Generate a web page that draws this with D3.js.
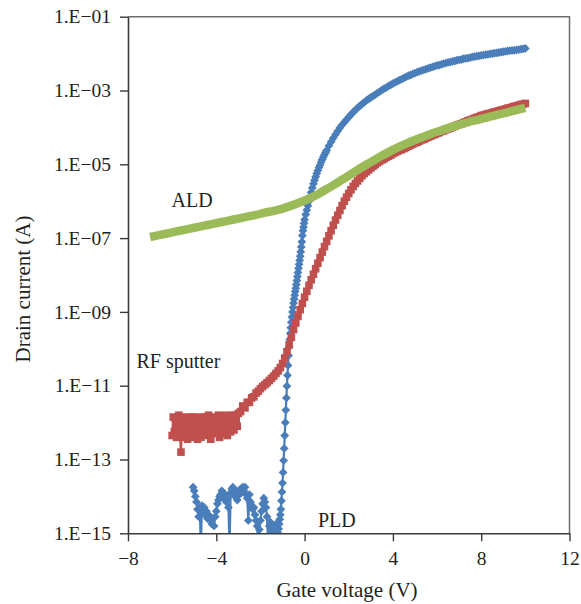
<!DOCTYPE html>
<html>
<head>
<meta charset="utf-8">
<script src="https://cdn.jsdelivr.net/npm/d3@7"></script>
<style>
  body { margin: 0; background: #fff; }
  text { font-family: "Liberation Serif", "Times New Roman", serif; fill: #231f20; }
</style>
</head>
<body>
<script>
// Global variables
const width = 581;
const height = 604;

// axis ticks
const xTicks = [-8, -4, 0, 4, 8, 12];
const yTicks = [1e-1, 1e-3, 1e-5, 1e-7, 1e-9, 1e-11, 1e-13, 1e-15];

// PLD (blue diamonds): gate voltage (V) and log10 of drain current (A)
const pldV = [
  -5.05, -5.00, -4.95, -4.90, -4.85, -4.80, -4.75, -4.70, -4.65, -4.60, -4.55, -4.50, -4.45,
  -4.40, -4.35, -4.30, -4.25, -4.20, -4.15, -4.10, -4.05, -4.00, -3.95, -3.90, -3.85, -3.80,
  -3.75, -3.70, -3.65, -3.60, -3.55, -3.50, -3.45, -3.40, -3.35, -3.30, -3.25, -3.20, -3.15,
  -3.10, -3.05, -3.00, -2.95, -2.90, -2.85, -2.80, -2.75, -2.70, -2.65, -2.60, -2.55, -2.50,
  -2.45, -2.40, -2.35, -2.30, -2.25, -2.20, -2.15, -2.10, -2.05, -2.00, -1.95, -1.90, -1.85,
  -1.80, -1.75, -1.70, -1.65, -1.60, -1.55, -1.50, -1.45, -1.40, -1.35, -1.30, -1.25,
  -1.200, -1.175, -1.150, -1.125, -1.100, -1.075, -1.050, -1.025, -1.000, -0.975,
  -0.950, -0.925, -0.900, -0.875, -0.850, -0.825, -0.800, -0.775, -0.750, -0.725,
  -0.700, -0.675, -0.650, -0.625, -0.600, -0.575, -0.550, -0.525, -0.500, -0.475,
  -0.450, -0.425, -0.400, -0.375, -0.350, -0.325, -0.300, -0.275, -0.250, -0.225,
  -0.200, -0.175, -0.150, -0.125, -0.100, -0.075, -0.050, -0.025,
  0.00, 0.05, 0.10, 0.15, 0.20, 0.25, 0.30, 0.35, 0.40, 0.45, 0.50, 0.55, 0.60, 0.65,
  0.70, 0.75, 0.80, 0.85, 0.90, 0.95, 1.00,
  1.1, 1.2, 1.3, 1.4, 1.5, 1.6, 1.7, 1.8,
  1.9, 2.0, 2.1, 2.2, 2.3, 2.4, 2.5, 2.6, 2.7, 2.8, 2.9, 3.0, 3.1, 3.2, 3.3, 3.4, 3.5, 3.6,
  3.7, 3.8, 3.9, 4.0, 4.1, 4.2, 4.3, 4.4, 4.5, 4.6, 4.7, 4.8, 4.9, 5.0, 5.1, 5.2, 5.3, 5.4,
  5.5, 5.6, 5.7, 5.8, 5.9, 6.0, 6.1, 6.2, 6.3, 6.4, 6.5, 6.6, 6.7, 6.8, 6.9, 7.0, 7.1, 7.2,
  7.3, 7.4, 7.5, 7.6, 7.7, 7.8, 7.9, 8.0, 8.1, 8.2, 8.3, 8.4, 8.5, 8.6, 8.7, 8.8, 8.9, 9.0,
  9.1, 9.2, 9.3, 9.4, 9.5, 9.6, 9.7, 9.8, 9.9, 10.0
];
const pldLogI = [
  -13.75, -13.85, -14.0, -14.15, -14.35, -14.55, -14.3, -15.4, -14.25, -14.45, -14.3, -14.5, -14.4,
  -14.6, -14.5, -14.55, -14.65, -14.75, -14.6, -14.8, -14.55, -14.4, -14.2, -14.1, -14.0, -13.95,
  -13.85, -13.9, -14.05, -13.95, -14.15, -14.05, -14.3, -15.4, -13.9, -13.8, -13.75, -13.85, -14.0,
  -13.9, -14.1, -13.85, -13.95, -13.8, -13.9, -13.75, -13.85, -13.75, -13.95, -14.05, -14.65, -13.95,
  -14.15, -14.25, -14.35, -14.3, -14.5, -14.65, -14.8, -15.4, -14.9, -14.65, -14.4, -14.2, -14.05,
  -14.15, -14.3, -14.55, -15.4, -14.8, -14.7, -14.85, -14.95, -15.4, -14.9, -14.75, -14.95,
  -15.0, -14.88, -14.75, -14.62, -14.5, -14.35, -14.12, -13.88, -13.64, -13.35,
  -13.03, -12.7, -12.35, -12.0, -11.66, -11.33, -11.01, -10.72, -10.45, -10.18,
  -9.95, -9.75, -9.58, -9.43, -9.28, -9.14, -9.0, -8.88, -8.76, -8.65,
  -8.55, -8.45, -8.36, -8.26, -8.15, -8.04, -7.93, -7.82, -7.71, -7.6,
  -7.49, -7.37, -7.24, -7.1, -6.93, -6.8, -6.7, -6.6,
  -6.5, -6.36, -6.24, -6.12, -6.0, -5.88, -5.76, -5.64, -5.53, -5.43, -5.34, -5.25, -5.17, -5.09,
  -5.02, -4.94, -4.87, -4.8, -4.74, -4.68, -4.62,
  -4.5, -4.39, -4.29, -4.19, -4.1, -4.01, -3.93, -3.86,
  -3.79, -3.72, -3.65, -3.59, -3.53, -3.47, -3.42, -3.37, -3.32, -3.27,
  -3.23, -3.19, -3.15, -3.11, -3.07, -3.03, -2.99, -2.95, -2.92, -2.88, -2.85, -2.81, -2.78, -2.75,
  -2.72, -2.69, -2.66, -2.63, -2.6, -2.58, -2.55, -2.53, -2.5, -2.48, -2.46, -2.44, -2.42, -2.4,
  -2.38, -2.36, -2.34, -2.32, -2.31, -2.29, -2.27, -2.26, -2.24, -2.23, -2.21, -2.2, -2.18, -2.17,
  -2.16, -2.14, -2.13, -2.12, -2.11, -2.09, -2.08, -2.07, -2.06, -2.05, -2.04, -2.03, -2.02, -2.01,
  -2.0, -1.99, -1.98, -1.97, -1.96, -1.95, -1.94, -1.93, -1.92, -1.91, -1.91, -1.9, -1.89, -1.88,
  -1.87, -1.86
];

// RF sputter (red squares)
const rfV = [
  -6.00, -5.95, -5.90, -5.85, -5.80, -5.75, -5.70, -5.65, -5.60, -5.55, -5.50, -5.45,
  -5.40, -5.35, -5.30, -5.25, -5.20, -5.15, -5.10, -5.05, -5.00, -4.95, -4.90, -4.85,
  -4.80, -4.75, -4.70, -4.65, -4.60, -4.55, -4.50, -4.45, -4.40, -4.35, -4.30, -4.25,
  -4.20, -4.15, -4.10, -4.05, -4.00, -3.95, -3.90, -3.85, -3.80, -3.75, -3.70, -3.65,
  -3.60, -3.55, -3.50, -3.45, -3.40, -3.35, -3.30, -3.25, -3.20, -3.15, -3.10, -3.05,
  -3.0, -2.9, -2.8, -2.7, -2.6, -2.5, -2.4, -2.3, -2.2, -2.1, -2.0, -1.9, -1.8, -1.7,
  -1.6, -1.5, -1.4, -1.3, -1.2, -1.1, -1.0, -0.9, -0.8, -0.7, -0.6, -0.5, -0.4, -0.3,
  -0.2, -0.1, 0.0, 0.1, 0.2, 0.3, 0.4, 0.5, 0.6, 0.7, 0.8, 0.9, 1.0, 1.1, 1.2, 1.3,
  1.4, 1.5, 1.6, 1.7, 1.8, 1.9, 2.0, 2.1, 2.2, 2.3, 2.4, 2.5, 2.6, 2.7, 2.8, 2.9, 3.0,
  3.1, 3.2, 3.3, 3.4, 3.5, 3.6, 3.7, 3.8, 3.9, 4.0, 4.1, 4.2, 4.3, 4.4, 4.5, 4.6, 4.7,
  4.8, 4.9, 5.0, 5.1, 5.2, 5.3, 5.4, 5.5, 5.6, 5.7, 5.8, 5.9, 6.0, 6.1, 6.2, 6.3, 6.4,
  6.5, 6.6, 6.7, 6.8, 6.9, 7.0, 7.1, 7.2, 7.3, 7.4, 7.5, 7.6, 7.7, 7.8, 7.9, 8.0, 8.1,
  8.2, 8.3, 8.4, 8.5, 8.6, 8.7, 8.8, 8.9, 9.0, 9.1, 9.2, 9.3, 9.4, 9.5, 9.6, 9.7, 9.8,
  9.9, 10.0
];
const rfLogI = [
  -12.35, -11.85, -12.25, -11.9, -12.4, -12.0, -11.8, -12.3, -12.8, -11.85, -12.2, -12.4,
  -11.9, -12.1, -12.45, -11.85, -12.3, -12.0, -11.85, -12.4, -12.15, -11.85, -12.35, -12.45,
  -11.9, -12.1, -12.4, -11.85, -12.25, -12.0, -11.85, -12.35, -12.2, -11.8, -12.3, -12.45,
  -11.9, -12.1, -12.3, -11.85, -12.25, -12.0, -11.8, -12.4, -12.1, -11.85, -12.3, -12.0,
  -11.8, -12.2, -12.35, -11.85, -12.05, -12.25, -11.8, -12.0, -12.2, -11.8, -11.95, -12.1,
  -11.75, -11.7, -11.55, -11.6, -11.45, -11.45, -11.33, -11.3, -11.2, -11.15, -11.08, -11.02, -10.97, -10.92,
  -10.86, -10.8, -10.74, -10.67, -10.6, -10.51, -10.4, -10.25, -10.08, -9.89, -9.69, -9.48, -9.3, -9.12,
  -8.94, -8.77, -8.6, -8.44, -8.28, -8.13, -7.98, -7.83, -7.68, -7.53, -7.38, -7.23, -7.09, -6.94, -6.8, -6.65,
  -6.51, -6.38, -6.25, -6.12, -6.0, -5.89, -5.79, -5.69, -5.6, -5.52, -5.45, -5.38, -5.31, -5.25, -5.2, -5.15, -5.1,
  -5.05, -5.01, -4.96, -4.92, -4.88, -4.85, -4.81, -4.78, -4.75, -4.71, -4.68, -4.65, -4.62, -4.6, -4.57, -4.54, -4.51,
  -4.48, -4.45, -4.42, -4.4, -4.37, -4.34, -4.32, -4.29, -4.26, -4.24, -4.21, -4.19, -4.16, -4.14, -4.11, -4.09, -4.06,
  -4.04, -4.02, -3.99, -3.97, -3.94, -3.92, -3.9, -3.87, -3.85, -3.82, -3.8, -3.78, -3.75, -3.73, -3.71, -3.68, -3.67,
  -3.65, -3.63, -3.62, -3.6, -3.58, -3.57, -3.55, -3.53, -3.52, -3.5, -3.48, -3.47, -3.45, -3.43, -3.42, -3.4, -3.38,
  -3.37, -3.35
];

// ALD (green)
const aldV = [
  -7.0, -6.6, -6.2, -5.8, -5.4, -5.0, -4.6, -4.2, -3.8, -3.4, -3.0, -2.6, -2.2, -1.8,
  -1.4, -1.0, -0.6, -0.2, 0.2, 0.6, 1.0, 1.4, 1.8, 2.2, 2.6, 3.0, 3.4, 3.8, 4.2, 4.6,
  5.0, 5.4, 5.8, 6.2, 6.6, 7.0, 7.4, 7.8, 8.2, 8.6, 9.0, 9.4, 9.8, 10.0
];
const aldLogI = [
  -6.97, -6.92, -6.87, -6.82, -6.77, -6.72, -6.67, -6.62, -6.57, -6.52, -6.47, -6.42, -6.37, -6.31,
  -6.26, -6.2, -6.12, -6.03, -5.93, -5.81, -5.67, -5.53, -5.38, -5.23, -5.08, -4.94, -4.8, -4.67,
  -4.55, -4.44, -4.34, -4.25, -4.16, -4.08, -4.0, -3.93, -3.86, -3.8, -3.74, -3.68, -3.62, -3.56,
  -3.5, -3.47
];

// series labels placed on the plot
const labels = [
  { text: "ALD", x: 171.5, y: 207 },
  { text: "RF sputter", x: 136.5, y: 368 },
  { text: "PLD", x: 318, y: 526.5 }
];

const svg = d3.select("body").append("svg")
  .attr("width", width)
  .attr("height", height);

// scales
const x = d3.scaleLinear().domain([-8, 12]).range([128, 569.5]);
const y = d3.scaleLog().domain([1e-15, 1e-1]).range([533.3, 16.7]);

const toPoints = (vs, logs) => vs.map((v, i) => ({ v: v, i: Math.pow(10, logs[i]) }));

svg.append("defs").append("clipPath")
  .attr("id", "plot")
  .append("rect")
    .attr("x", x(-8))
    .attr("y", y(1e-1))
    .attr("width", x(12) - x(-8))
    .attr("height", y(1e-15) - y(1e-1));

// frame top and right
svg.append("path")
  .attr("d", `M${x(-8)},${y(1e-1)}H${x(12)}V${y(1e-15)}`)
  .attr("fill", "none")
  .attr("stroke", "#6d6d6d")
  .attr("stroke-width", 1.5);

const plot = svg.append("g").attr("clip-path", "url(#plot)");

const line = d3.line()
  .x(d => x(d.v))
  .y(d => y(d.i));

// PLD
const pld = toPoints(pldV, pldLogI);
plot.append("path")
  .datum(pld)
  .attr("d", line)
  .attr("fill", "none")
  .attr("stroke", "#4a7ebb")
  .attr("stroke-width", 2.2);
plot.append("g").selectAll("path")
  .data(pld)
  .enter().append("path")
    .attr("d", "M0,-4.4L4.4,0L0,4.4L-4.4,0Z")
    .attr("transform", d => `translate(${x(d.v)},${y(d.i)})`)
    .attr("fill", "#4a7ebb");

// RF sputter
const rf = toPoints(rfV, rfLogI);
plot.append("path")
  .datum(rf)
  .attr("d", line)
  .attr("fill", "none")
  .attr("stroke", "#c0504d")
  .attr("stroke-width", 2.2);
plot.append("g").selectAll("rect")
  .data(rf)
  .enter().append("rect")
    .attr("x", d => x(d.v) - 3.8)
    .attr("y", d => y(d.i) - 3.8)
    .attr("width", 7.6)
    .attr("height", 7.6)
    .attr("fill", "#c0504d");

// ALD
const ald = toPoints(aldV, aldLogI);
plot.append("path")
  .datum(ald)
  .attr("d", line.curve(d3.curveMonotoneX))
  .attr("fill", "none")
  .attr("stroke", "#9bbb59")
  .attr("stroke-width", 8.5);

// axes
const fmtY = d => "1.E\u2212" + String(Math.round(-Math.log10(d))).padStart(2, "0");

const yAxis = svg.append("g")
  .attr("transform", `translate(${x(-8)},0)`)
  .call(d3.axisLeft(y).tickValues(yTicks).tickFormat(fmtY).tickSize(8).tickSizeOuter(0).tickPadding(9));

const xAxis = svg.append("g")
  .attr("transform", `translate(0,${y(1e-15)})`)
  .call(d3.axisBottom(x).tickValues(xTicks).tickFormat(d => d < 0 ? "\u2212" + (-d) : d).tickSize(8).tickSizeOuter(0).tickPadding(10));

[yAxis, xAxis].forEach(a => {
  a.select(".domain").attr("stroke", "#3a3a3a").attr("stroke-width", 1.6);
  a.selectAll(".tick line").attr("stroke", "#3a3a3a").attr("stroke-width", 1.4);
  a.selectAll(".tick text")
    .style("font-family", "'Liberation Serif', serif")
    .style("font-size", "19.5px")
    .attr("fill", "#231f20");
});

// axis titles
svg.append("text")
  .attr("transform", "translate(30,289) rotate(-90)")
  .attr("text-anchor", "middle")
  .style("font-size", "21px")
  .text("Drain current (A)");

svg.append("text")
  .attr("x", 347)
  .attr("y", 597)
  .attr("text-anchor", "middle")
  .style("font-size", "21px")
  .text("Gate voltage (V)");

// series labels
svg.selectAll("text.label")
  .data(labels)
  .enter().append("text")
    .attr("class", "label")
    .attr("x", d => d.x)
    .attr("y", d => d.y)
    .style("font-size", "20px")
    .text(d => d.text);
</script>
</body>
</html>
